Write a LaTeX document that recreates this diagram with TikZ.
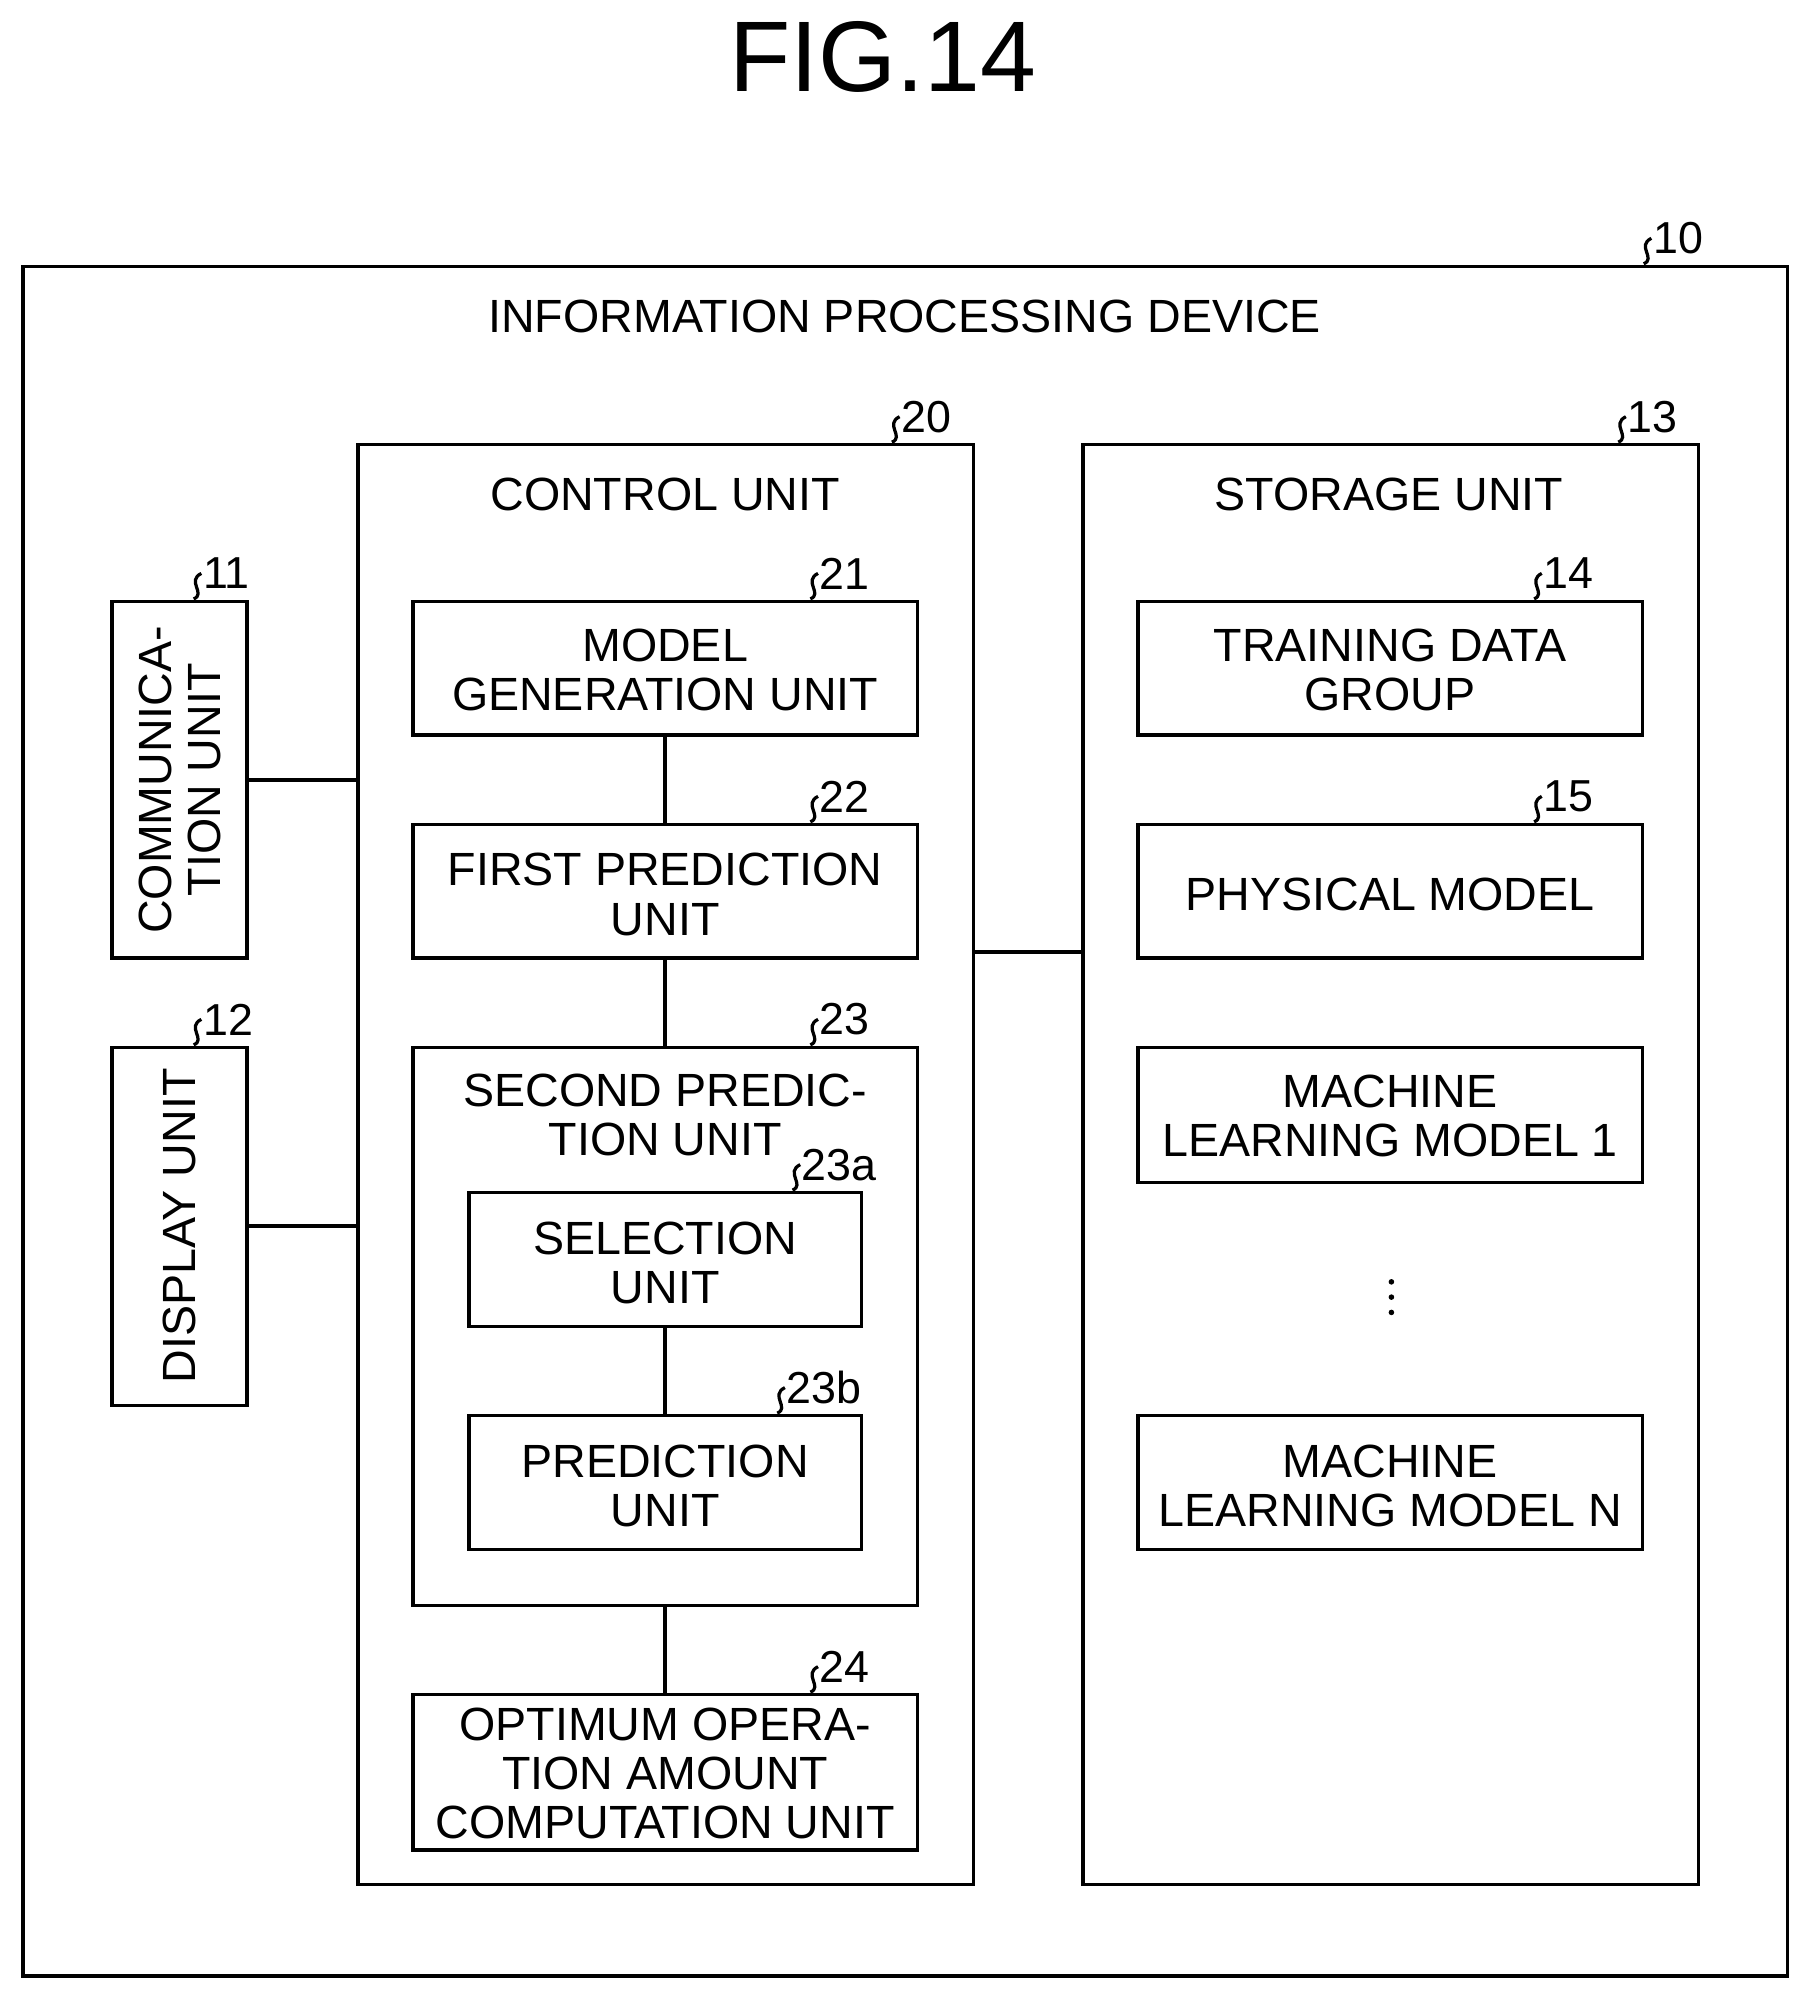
\documentclass[tikz,border=0pt]{standalone}
\usepackage{fontspec}
\setmainfont{Liberation Sans}
\usetikzlibrary{positioning,calc}
\newcommand{\refmark}[3]{%
  \draw[line width=1.8pt] (#1,#2) .. controls (#1+10,#2-4) and (#1-6,#2-14) .. (#1+6,#2-20);
  \node[anchor=west,inner sep=0pt,font=\fontsize{25}{25}\selectfont] at (#1+6,#2-20) {#3};}
\begin{document}
\begin{tikzpicture}[x=0.025cm,y=-0.025cm,line width=2pt,
  lbl/.style={inner sep=0pt,align=center,font=\fontsize{26}{27.5}\selectfont}]
\useasboundingbox (0,0) rectangle (1414,1561);
\node[lbl,font=\fontsize{56}{56}\selectfont] (fig) at (693,45) {FIG.14};
% outer device
\draw (18,209) rectangle (1403,1551);
\node[lbl] (devlbl) at (710,248) {INFORMATION PROCESSING DEVICE};
\refmark{1290}{207}{10}
% control unit
\draw (281,349) rectangle (764,1479);
\node[lbl] (ctllbl) at (522,388) {CONTROL UNIT};
\refmark{700}{347}{20}
% storage unit
\draw (850,349) rectangle (1333,1479);
\node[lbl] (stolbl) at (1090,388) {STORAGE UNIT};
\refmark{1270}{347}{13}
% left units
\draw (88,472) rectangle (194,752);
\node[lbl,rotate=90] (comm) at (141,612) {COMMUNICA-\\TION UNIT};
\refmark{152}{470}{11}
\draw (88,822) rectangle (194,1103);
\node[lbl,rotate=90] (disp) at (141,962) {DISPLAY UNIT};
\refmark{152}{820}{12}
% control sub units
\draw (324,472) rectangle (720,577);
\node[lbl] (gen) at (522,526) {MODEL\\GENERATION UNIT};
\refmark{636}{470}{21}
\draw (324,647) rectangle (720,752);
\node[lbl] (pred1) at (522,702) {FIRST PREDICTION\\UNIT};
\refmark{636}{645}{22}
\draw (324,822) rectangle (720,1260);
\node[lbl] (pred2) at (522,875) {SECOND PREDIC-\\TION UNIT};
\refmark{636}{820}{23}
\draw (368,936) rectangle (676,1041);
\node[lbl] (sel) at (522,991) {SELECTION\\UNIT};
\refmark{622}{934}{23a}
\draw (368,1111) rectangle (676,1216);
\node[lbl] (pred) at (522,1166) {PREDICTION\\UNIT};
\refmark{610}{1109}{23b}
\draw (324,1330) rectangle (720,1452);
\node[lbl] (opt) at (522,1392) {OPTIMUM OPERA-\\TION AMOUNT\\COMPUTATION UNIT};
\refmark{636}{1328}{24}
% storage contents
\draw (893,472) rectangle (1289,577);
\node[lbl] (train) at (1091,526) {TRAINING DATA\\GROUP};
\refmark{1204}{470}{14}
\draw (893,647) rectangle (1289,752);
\node[lbl] (phys) at (1091,702) {PHYSICAL MODEL};
\refmark{1204}{645}{15}
\draw (893,822) rectangle (1289,928);
\node[lbl] (ml1) at (1091,876) {MACHINE\\LEARNING MODEL 1};
\foreach \yy in {1006,1018,1030} \fill (1092,\yy) circle (2.2);
\draw (893,1111) rectangle (1289,1216);
\node[lbl] (mln) at (1091,1166) {MACHINE\\LEARNING MODEL N};
% connectors
\draw (194,612) -- (281,612);
\draw (194,962) -- (281,962);
\draw (764,747) -- (850,747);
\draw (522,577) -- (522,647);
\draw (522,752) -- (522,822);
\draw (522,1041) -- (522,1111);
\draw (522,1260) -- (522,1330);
\end{tikzpicture}
\end{document}
